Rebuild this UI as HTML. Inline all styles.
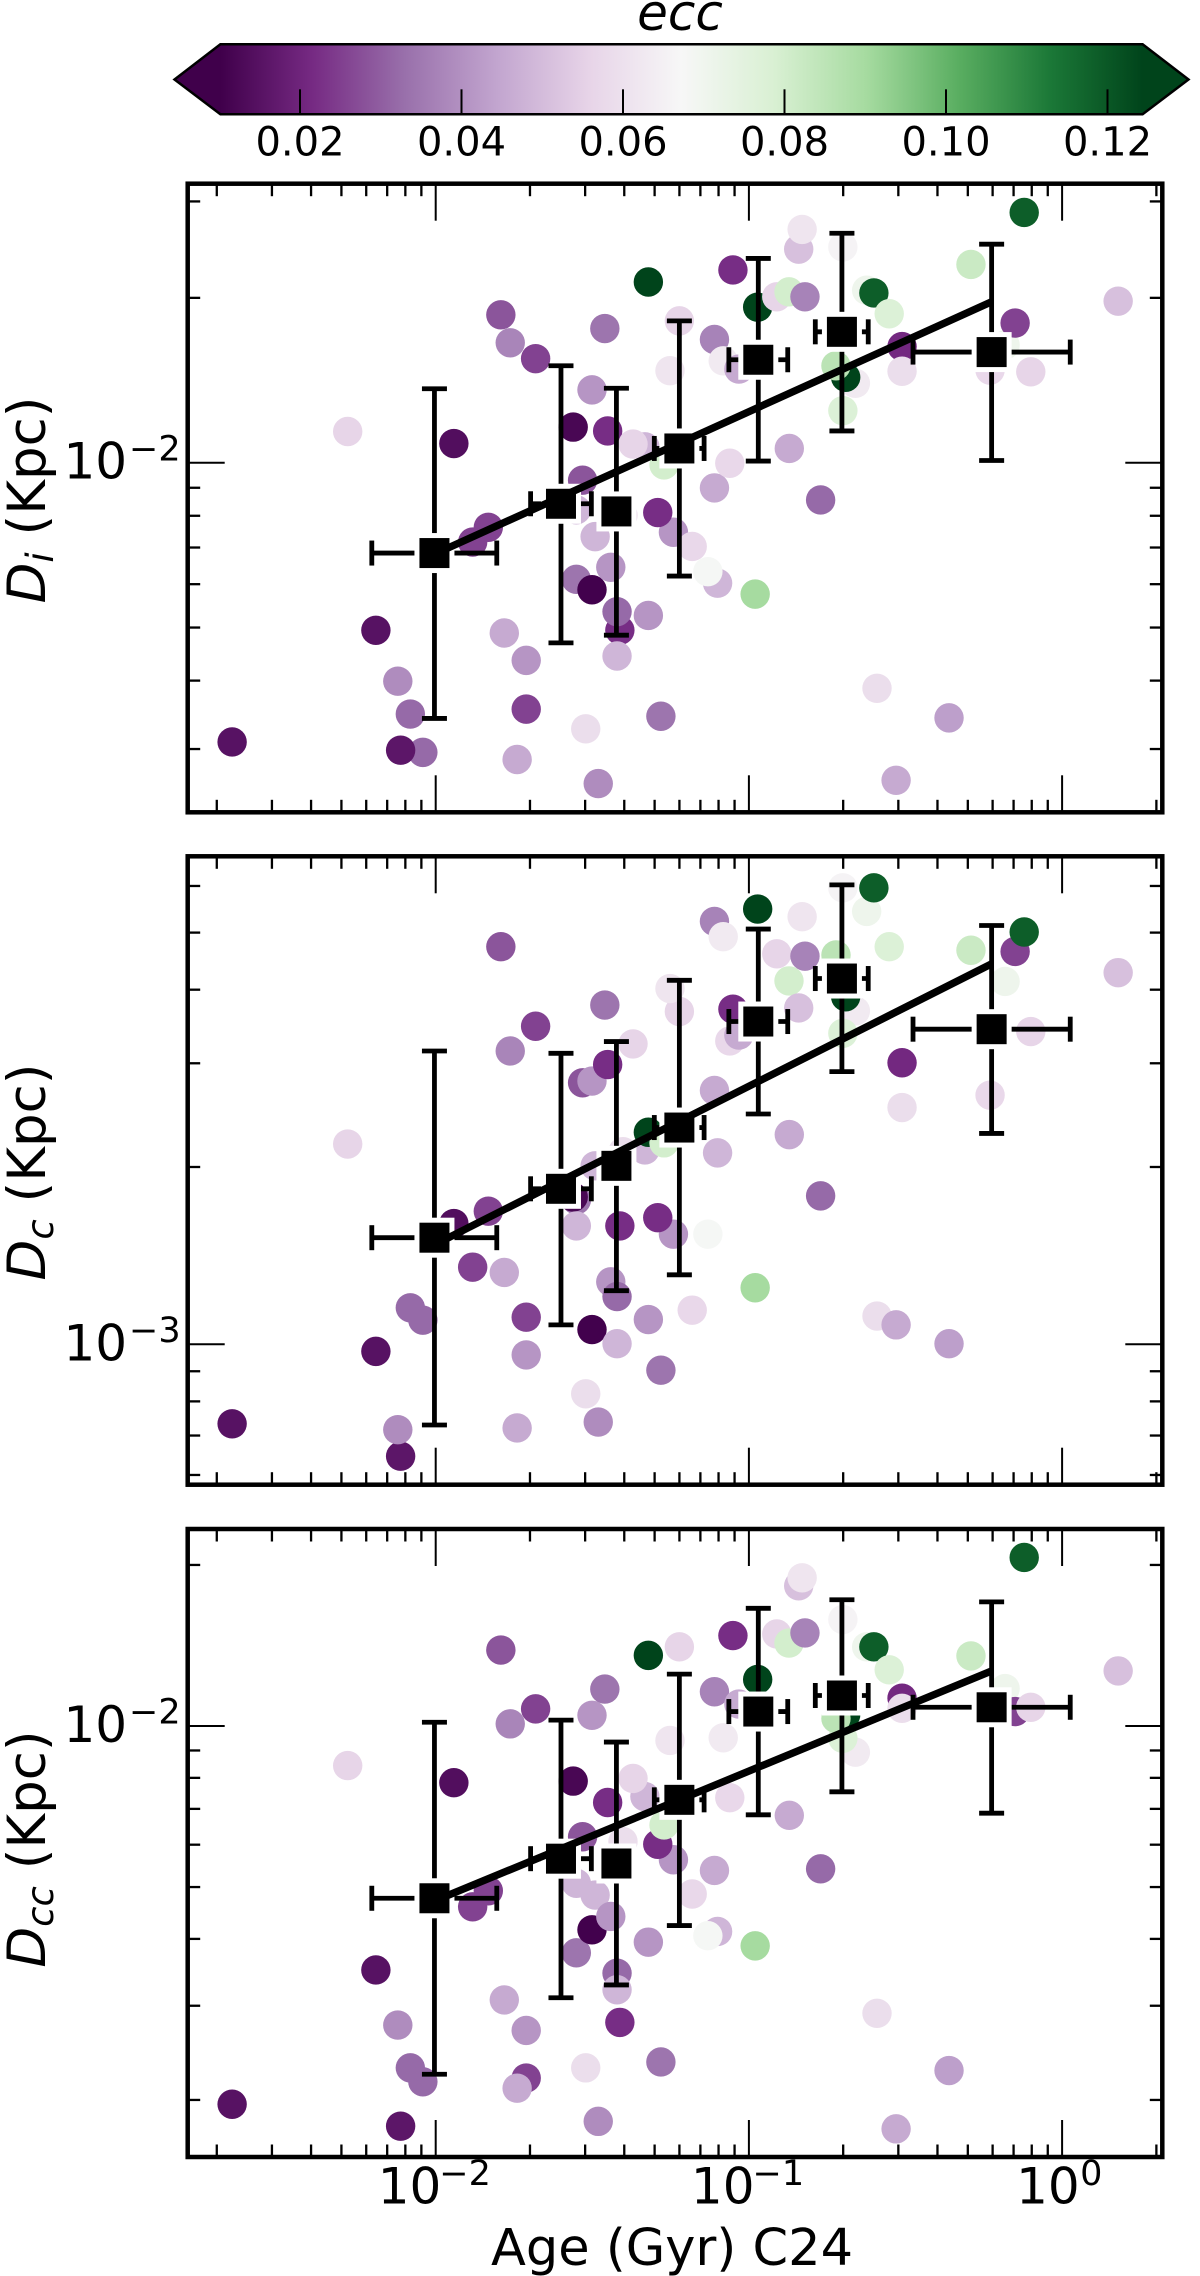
<!DOCTYPE html>
<html lang="en">
<head>
<meta charset="utf-8">
<title>Distance vs age scatter, coloured by ecc</title>
<style>
html,body{margin:0;padding:0;background:#fff;}
svg{display:block;}
text{font-family:"DejaVu Sans","Liberation Sans",sans-serif;fill:#000;}
</style>
</head>
<body>
<svg id="figure" xmlns="http://www.w3.org/2000/svg" width="1200" height="2276" viewBox="0 0 1200 2276">
  <defs>
    <linearGradient id="cbar-gradient" gradientUnits="userSpaceOnUse" x1="220.4" y1="0" x2="1142.6" y2="0"></linearGradient>
  </defs>
  <g id="colorbar"></g>
  <g id="panels"></g>
  <text x="672" y="2265" font-size="51" text-anchor="middle">Age (Gyr) C24</text>
</svg>
<script>
// Values are stored as log10 of the plotted quantity (all axes are logarithmic).
const logAge = [-2.650,-2.281,-2.191,-2.041,-2.081,-2.112,-2.121,-1.942,-1.882,-1.832,-1.792,-1.781,-1.762,-1.711,-1.711,-1.740,-1.681,-1.551,-1.561,-1.531,-1.551,-1.521,-1.501,-1.501,-1.491,-1.481,-1.460,-1.451,-1.441,-1.412,-1.421,-1.421,-1.402,-1.332,-1.370,-1.321,-1.321,-1.241,-1.291,-1.281,-1.271,-1.222,-1.252,-1.181,-1.100,-1.131,-1.110,-1.082,-1.110,-1.061,-1.032,-1.051,-0.980,-0.972,-0.911,-0.872,-0.871,-0.841,-0.830,-0.821,-0.771,-0.660,-0.700,-0.691,-0.722,-0.700,-0.624,-0.601,-0.591,-0.552,-0.530,-0.511,-0.511,-0.361,-0.291,-0.230,-0.182,-0.150,-0.121,-0.100,0.179];
const logDi = [-2.510,-1.943,-2.306,-2.529,-2.459,-2.525,-2.399,-1.965,-2.145,-2.118,-1.730,-2.311,-1.781,-2.361,-2.450,-2.542,-1.810,-2.213,-1.935,-2.032,-2.086,-2.486,-1.867,-2.232,-2.135,-2.586,-1.755,-1.942,-2.191,-2.306,-2.272,-2.353,-2.096,-1.971,-1.966,-1.670,-2.279,-2.127,-2.091,-2.463,-2.004,-1.741,-1.832,-2.153,-2.220,-2.199,-1.775,-1.814,-2.046,-2.001,-1.829,-1.648,-2.240,-1.716,-1.697,-1.688,-1.974,-1.610,-1.574,-1.697,-2.068,-1.855,-1.905,-1.844,-1.823,-1.606,-1.685,-1.690,-2.412,-1.728,-2.580,-1.788,-1.833,-2.466,-1.638,-1.831,-1.785,-1.745,-1.543,-1.834,-1.705];
const logDc = [-3.135,-2.660,-3.012,-2.959,-2.938,-3.190,-3.145,-2.795,-2.869,-2.774,-2.325,-2.878,-2.502,-3.018,-2.954,-3.142,-2.460,-2.755,-2.750,-2.556,-2.799,-3.084,-2.553,-2.975,-2.697,-3.132,-2.424,-2.525,-2.894,-2.799,-2.919,-2.999,-2.673,-2.670,-2.490,-2.640,-2.958,-2.813,-2.785,-3.044,-2.658,-2.435,-2.396,-2.942,-2.675,-2.813,-2.282,-2.308,-2.569,-2.485,-2.475,-2.431,-2.904,-2.261,-2.337,-2.383,-2.644,-2.429,-2.274,-2.341,-2.748,-2.434,-2.472,-2.410,-2.339,-2.225,-2.265,-2.225,-2.952,-2.325,-2.967,-2.522,-2.598,-2.999,-2.331,-2.577,-2.384,-2.333,-2.300,-2.469,-2.369];
const logDcc = [-2.707,-2.074,-2.456,-2.665,-2.639,-2.748,-2.559,-2.106,-2.338,-2.308,-1.858,-2.512,-1.996,-2.569,-2.658,-2.677,-1.968,-2.424,-2.103,-2.207,-2.294,-2.639,-1.980,-2.381,-2.316,-2.739,-1.931,-2.143,-2.356,-2.554,-2.462,-2.493,-2.216,-2.132,-2.098,-1.868,-2.404,-2.250,-2.221,-2.628,-2.185,-1.852,-2.027,-2.314,-2.384,-2.392,-1.936,-2.022,-2.270,-2.134,-1.959,-1.831,-2.411,-1.913,-1.828,-1.845,-2.167,-1.738,-1.723,-1.826,-2.267,-2.049,-2.023,-1.979,-1.986,-1.801,-1.852,-1.852,-2.537,-1.895,-2.753,-1.948,-1.967,-2.644,-1.869,-1.961,-1.930,-1.973,-1.685,-1.965,-1.897];
const ecc = [0.015,0.056,0.015,0.032,0.032,0.016,0.039,0.014,0.0255,0.0255,0.0285,0.0455,0.0375,0.041,0.0255,0.0455,0.0255,0.034,0.012,0.0285,0.0485,0.059,0.041,0.0105,0.0485,0.039,0.034,0.022,0.041,0.022,0.032,0.0485,0.059,0.0485,0.056,0.1244,0.041,0.041,0.022,0.034,0.080,0.056,0.0615,0.057,0.0485,0.068,0.037,0.063,0.0455,0.057,0.0455,0.022,0.090,0.1244,0.056,0.080,0.0455,0.051,0.0615,0.037,0.032,0.063,0.0775,0.1244,0.0855,0.066,0.0707,0.1187,0.059,0.0775,0.0455,0.021,0.059,0.043,0.082,0.057,0.0707,0.0255,0.1187,0.056,0.051];

// Binned medians and their ranges
const binLogAge = [-2.004,-1.600,-1.423,-1.222,-0.970,-0.703,-0.225];
const binLogAgeLow = [-2.204,-1.697,-1.450,-1.302,-1.064,-0.788,-0.476];
const binLogAgeHigh = [-1.805,-1.503,-1.395,-1.143,-0.876,-0.619,0.026];
const binDi = [-2.165,-2.075,-2.089,-1.974,-1.812,-1.761,-1.798];
const binDiHigh = [-1.865,-1.823,-1.864,-1.741,-1.627,-1.581,-1.601];
const binDiLow = [-2.467,-2.329,-2.315,-2.207,-1.997,-1.942,-1.996];
const binDc = [-2.819,-2.736,-2.697,-2.632,-2.452,-2.379,-2.465];
const binDcHigh = [-2.502,-2.506,-2.486,-2.382,-2.295,-2.220,-2.289];
const binDcLow = [-3.137,-2.967,-2.909,-2.882,-2.609,-2.537,-2.642];
const binDcc = [-2.322,-2.248,-2.257,-2.138,-1.973,-1.943,-1.965];
const binDccHigh = [-1.993,-1.989,-2.030,-1.903,-1.780,-1.764,-1.768];
const binDccLow = [-2.651,-2.508,-2.484,-2.373,-2.166,-2.123,-2.163];

// Straight-line fits: log10 age end points and per-panel log10 D end points
const fitLogAge = [-2.004,-0.225];
const fitDi = [-2.167,-1.706];
const fitDc = [-2.831,-2.354];
const fitDcc = [-2.327,-1.897];

// Tick labels
const xMajorExponents = [-2,-1,0];
const colorbarTicks = [0.02,0.04,0.06,0.08,0.10,0.12];

// PRGn colormap
const prgn = ['#40004b','#762a83','#9970ab','#c2a5cf','#e7d4e8','#f7f7f7','#d9f0d3','#a6dba0','#5aae61','#1b7837','#00441b'];

const NS = 'http://www.w3.org/2000/svg';
const VMIN = 0.0101, VMAX = 0.1244;
const AXL = 187.7, AXR = 1162.3;

function mk(tag, parent){
  const el = document.createElementNS(NS, tag);
  parent.appendChild(el);
  return el;
}
function setA(el, k, v){ el.setAttribute(k, v); }
function lineAt(parent, x1, y1, x2, y2, w){
  const l = mk('line', parent);
  setA(l,'x1',x1); setA(l,'y1',y1); setA(l,'x2',x2); setA(l,'y2',y2);
  setA(l,'stroke','#000'); setA(l,'stroke-width',w);
  return l;
}
function xPos(v){ return 435.7 + 313.2 * (v + 2); }
function hexRgb(h){ return [parseInt(h.slice(1,3),16),parseInt(h.slice(3,5),16),parseInt(h.slice(5,7),16)]; }
function colorFor(e){
  let t = (e - VMIN) / (VMAX - VMIN);
  t = Math.max(0, Math.min(1, t));
  const p = t * (prgn.length - 1);
  const i = Math.min(prgn.length - 2, Math.floor(p));
  const f = p - i;
  const a = hexRgb(prgn[i]), b = hexRgb(prgn[i + 1]);
  return 'rgb(' + a.map((c, k) => Math.round(c + (b[k] - c) * f)).join(',') + ')';
}
function expLabel(parent, x10, xExp, base, exp, sign){
  const g = mk('g', parent);
  const t1 = mk('text', g);
  setA(t1,'x',x10); setA(t1,'y',base); setA(t1,'font-size',50);
  t1.textContent = '10';
  
  
  const t2 = mk('text', g);
  setA(t2,'x',xExp); setA(t2,'y',base - 18.3); setA(t2,'font-size',35);
  t2.textContent = (sign < 0 ? '\u2212' : '') + Math.abs(exp);
  
  
}

/* colour bar */
(function(){
  const grad = document.getElementById('cbar-gradient');
  prgn.forEach((c, i) => {
    const s = mk('stop', grad);
    setA(s,'offset', i / (prgn.length - 1));
    setA(s,'stop-color', c);
  });
  const cb = document.getElementById('colorbar');
  const title = mk('text', cb);
  setA(title,'x',680); setA(title,'y',30); setA(title,'font-size',50);
  setA(title,'font-style','italic'); setA(title,'text-anchor','middle');
  title.textContent = 'ecc';
  
  
  const body = mk('polygon', cb);
  setA(body,'points','220.4,44.3 1142.6,44.3 1188.5,79.5 1142.6,114.3 220.4,114.3 174.5,79.5');
  setA(body,'fill','url(#cbar-gradient)');
  setA(body,'stroke','#000'); setA(body,'stroke-width',2.5);
  
  
  colorbarTicks.forEach(v => {
    const x = 300 + (v - 0.02) * 8075;
    const tk = lineAt(cb, x, 89.3, x, 114.3, 2);
    
    
    const t = mk('text', cb);
    setA(t,'x',x); setA(t,'y',155.5); setA(t,'font-size',40); setA(t,'text-anchor','middle');
    t.textContent = v.toFixed(2);
    
    
  });
})();

/* panels */
const panels = [
  {key:'di', top:183.7, bottom:812.3, refLog:-2, refY:462.7, decade:547.6, values:logDi, bin:binDi, hi:binDiHigh, lo:binDiLow, fit:fitDi, sub:'i', labelY:500, showX:false},
  {key:'dc', top:856.3, bottom:1484.7, refLog:-3, refY:1344.3, decade:589, values:logDc, bin:binDc, hi:binDcHigh, lo:binDcLow, fit:fitDc, sub:'c', labelY:1172, showX:false},
  {key:'dcc', top:1529, bottom:2157, refLog:-2, refY:1726, decade:535, values:logDcc, bin:binDcc, hi:binDccHigh, lo:binDccLow, fit:fitDcc, sub:'cc', labelY:1849, showX:true}
];

panels.forEach(p => {
  const yPos = v => p.refY + (p.refLog - v) * p.decade;
  const root = document.getElementById('panels');
  const g = mk('g', root);
  
  

  // scatter
  const pts = mk('g', g);
  
  
  logAge.forEach((a, i) => {
    const c = mk('circle', pts);
    setA(c,'cx',xPos(a).toFixed(2));
    setA(c,'cy',yPos(p.values[i]).toFixed(2));
    setA(c,'r',14.7);
    setA(c,'fill',colorFor(ecc[i]));
    
    
  });

  // binned error bars + markers
  const bins = mk('g', g);
  
  
  binLogAge.forEach((a, i) => {
    const cx = xPos(a), cy = yPos(p.bin[i]);
    const xl = xPos(binLogAgeLow[i]), xh = xPos(binLogAgeHigh[i]);
    const yl = yPos(p.lo[i]), yh = yPos(p.hi[i]);
    const eb = mk('g', bins);
    
    
    lineAt(eb, cx, yh, cx, yl, 4.8);
    lineAt(eb, cx - 12.5, yh, cx + 12.5, yh, 4.8);
    lineAt(eb, cx - 12.5, yl, cx + 12.5, yl, 4.8);
    lineAt(eb, xl, cy, xh, cy, 4.8);
    lineAt(eb, xl, cy - 12.5, xl, cy + 12.5, 4.8);
    lineAt(eb, xh, cy - 12.5, xh, cy + 12.5, 4.8);
    const halo = mk('rect', bins);
    setA(halo,'x',cx - 20); setA(halo,'y',cy - 20); setA(halo,'width',40); setA(halo,'height',40);
    setA(halo,'fill','#fff');
    
    
    const sq = mk('rect', bins);
    setA(sq,'x',cx - 15); setA(sq,'y',cy - 15); setA(sq,'width',30); setA(sq,'height',30);
    setA(sq,'fill','#000');
    
    
  });

  // fit line
  const fit = lineAt(g, xPos(fitLogAge[0]), yPos(p.fit[0]), xPos(fitLogAge[1]), yPos(p.fit[1]), 7.4);
  
  

  // ticks
  const ticks = mk('g', g);
  
  
  for (let d = -3; d <= 0; d++) {
    for (let m = 1; m <= 9; m++) {
      const x = xPos(d + Math.log10(m));
      if (x <= AXL + 2 || x >= AXR - 2) continue;
      const len = m === 1 ? 37 : 12.5;
      const w = m === 1 ? 2 : 2.3;
      lineAt(ticks, x, p.top, x, p.top + len, w);
      lineAt(ticks, x, p.bottom, x, p.bottom - len, w);
    }
  }
  for (let d = -5; d <= 0; d++) {
    for (let m = 1; m <= 9; m++) {
      const y = yPos(d + Math.log10(m));
      if (y <= p.top + 2 || y >= p.bottom - 2) continue;
      const len = m === 1 ? 37 : 12.5;
      const w = m === 1 ? 2 : 2.3;
      lineAt(ticks, AXL, y, AXL + len, y, w);
      lineAt(ticks, AXR, y, AXR - len, y, w);
    }
  }

  // frame
  const frame = mk('rect', g);
  setA(frame,'x',AXL); setA(frame,'y',p.top);
  setA(frame,'width',AXR - AXL); setA(frame,'height',p.bottom - p.top);
  setA(frame,'fill','none'); setA(frame,'stroke','#000'); setA(frame,'stroke-width',4.5);
  
  

  // y tick label
  expLabel(g, 63.5, 129, yPos(p.refLog) + 16, p.refLog, -1);

  // x tick labels
  if (p.showX) {
    xMajorExponents.forEach(e => {
      const tx = xPos(e);
      if (e < 0) expLabel(g, tx - 58, tx + 3.6, 2203.3, e, -1);
      else expLabel(g, tx - 46, tx + 18, 2203.3, e, 1);
    });
  }

  // y axis title
  const t = mk('text', g);
  setA(t,'font-size',53); setA(t,'text-anchor','middle');
  setA(t,'transform','translate(45,' + p.labelY + ') rotate(-90)');
  
  
  const t1 = mk('tspan', t);
  setA(t1,'font-style','italic');
  t1.textContent = 'D';
  const t2 = mk('tspan', t);
  setA(t2,'font-style','italic'); setA(t2,'font-size',37); setA(t2,'dy',8);
  t2.textContent = p.sub;
  const t3 = mk('tspan', t);
  setA(t3,'dy',-8);
  t3.textContent = ' (Kpc)';
  t3.setAttribute('xml:space', 'preserve');
});
</script>
</body>
</html>
